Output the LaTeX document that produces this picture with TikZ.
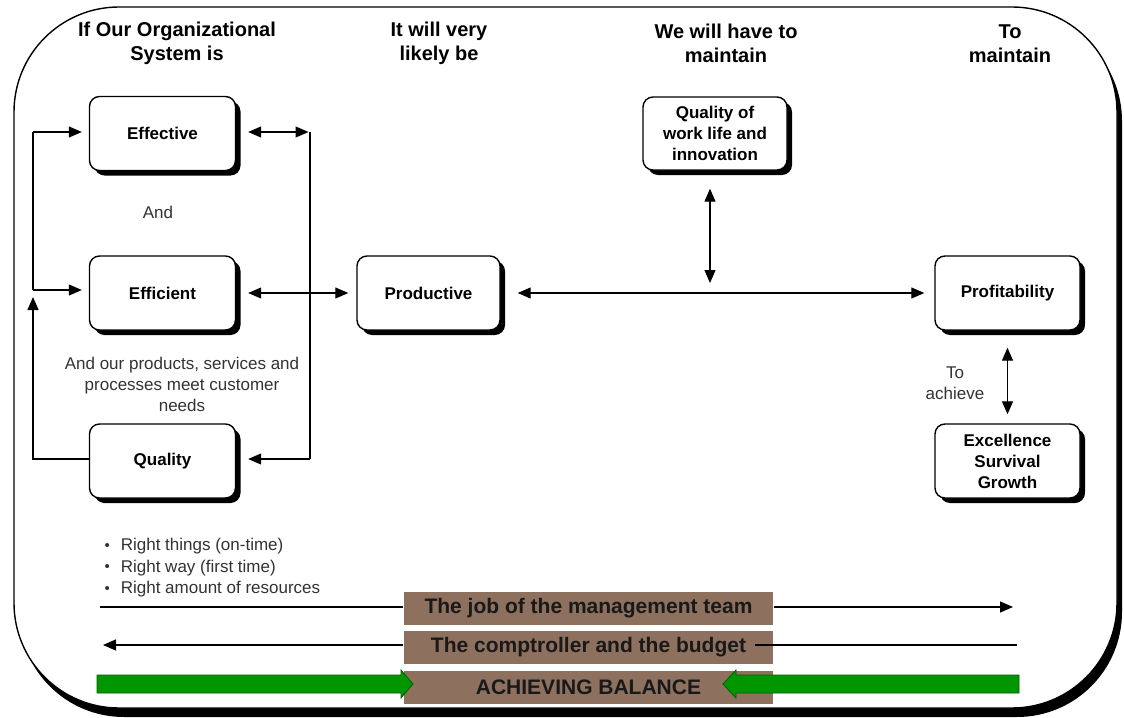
\documentclass[tikz,border=0pt]{standalone}
\usepackage{fontspec}
\setmainfont{Liberation Sans}
\usetikzlibrary{arrows.meta,shadows,calc}
\definecolor{bandbrown}{RGB}{141,112,94}
\definecolor{bargreen}{RGB}{0,150,0}
\definecolor{bargreendark}{RGB}{0,95,0}
\newcommand\dotmark{{\fontsize{15bp}{15bp}\selectfont\raisebox{0.5bp}{•}}}
\begin{document}
\begin{tikzpicture}[x=1bp,y=-1bp,
  line width=1.2bp,
  >={Triangle[length=13bp,width=11bp]},
  stage/.style={draw, line width=1.4bp, rounded corners=10bp, fill=white,
    align=center, inner sep=0pt, minimum width=146bp, minimum height=74bp,
    font=\fontsize{17bp}{21bp}\selectfont\bfseries,
    drop shadow={shadow xshift=5bp, shadow yshift=-5bp, fill=black, opacity=1}},
  header/.style={align=center, font=\fontsize{20bp}{24bp}\selectfont\bfseries},
  note/.style={align=center, text=black!80, font=\fontsize{17bp}{21bp}\selectfont},
  band/.style={fill=bandbrown, minimum width=369bp, minimum height=33bp,
    inner sep=0pt, text=black!90, font=\fontsize{21bp}{21bp}\selectfont\bfseries},
  greenbar/.style={fill=bargreen, draw=bargreendark, line width=0.8bp},
]
\useasboundingbox (0,0) rectangle (1124,718);

% outer frame with its shadow
\fill[black, rounded corners=105bp] (19,16) rectangle (1122,717);
\draw[line width=1.4bp, fill=white, rounded corners=105bp] (14,7) rectangle (1117,708);

% column headings
\node[header] (h1) at (177,43) {If Our Organizational\\System is};
\node[header] (h2) at (439,43) {It will very\\likely be};
\node[header] (h3) at (726,43) {We will have to\\maintain};
\node[header] (h4) at (1010,44) {To\\maintain};

% stage boxes
\node[stage] (eff)  at (162.5,133.5) {Effective};
\node[stage] (effi) at (162.5,293) {Efficient};
\node[stage] (qual) at (162.5,461) {Quality};
\node[stage, minimum width=143bp] (prod) at (428.5,293) {Productive};
\node[stage, minimum width=144bp, minimum height=73bp] (qwl) at (715,133.5) {Quality of\\work life and\\innovation};
\node[stage, minimum width=145bp] (prof) at (1007.5,293) {Profitability};
\node[stage, minimum width=145bp] (exc)  at (1007.5,461) {Excellence\\Survival\\Growth};

% free texts
\node[note] (andtxt) at (158,212) {And};
\node[note] (meet) at (182,384) {And our products, services and\\processes meet customer\\needs};
\node[note] (achieve) at (955,383) {To\\achieve};
\node[anchor=west, inner sep=0pt, text=black!80, font=\fontsize{17bp}{21.5bp}\selectfont] (bul) at (104,568)
  {\begin{tabular}{@{}l@{\hspace{11bp}}l@{}}
   \dotmark & Right things (on-time)\\
   \dotmark & Right way (first time)\\
   \dotmark & Right amount of resources
   \end{tabular}};

% left feedback bracket
\coordinate (lv1) at (33,132);
\coordinate (lv2) at (33,290);
\coordinate (lv3) at (33,297);
\coordinate (lv4) at (33,459);
\draw (lv1) -- (lv2);
\draw[->, shorten >=7bp] (lv1) -- (lv1 -| eff.west);
\draw[->, shorten >=7bp] (lv2) -- (lv2 -| effi.west);
\draw[->] (lv4 -| qual.west) -- (lv4) -- (lv3);

% right bracket
\coordinate (rv1) at (310,132);
\coordinate (rv2) at (310,459);
\draw[<->, shorten <=12bp, shorten >=1.5bp] (rv1 -| eff.east) -- (rv1);
\draw (rv1) -- (rv2);
\draw[->, shorten >=12bp] (rv2) -- (rv2 -| qual.east);

% main chain
\draw[<->, shorten <=12bp, shorten >=8bp] (effi.east) -- (prod.west);
\draw[<->, shorten <=17bp, shorten >=10bp] (prod.east) -- (prof.west);
\coordinate (mid) at (710,293);
\draw[<->, shorten <=18bp, shorten >=10bp] (mid |- qwl.south) -- (mid);
\draw[<->, shorten <=17bp, shorten >=9bp] (prof.south) -- (exc.north);

% bottom bands
\node[band] (job)    at (588.5,608.5) {The job of the management team};
\node[band] (budget) at (588.5,647) {The comptroller and the budget};
\node[band] (bal)    at (588.5,687) {ACHIEVING BALANCE};

\coordinate (j1) at (100,607);
\coordinate (j2) at (1013,607);
\draw (j1) -- (j1 -| job.west);
\draw[->] (j1 -| job.east) -- (j2);

\coordinate (b1) at (103,645);
\coordinate (b2) at (1017,645);
\coordinate (b3) at (755,645);
\draw[<-] (b1) -- (b1 -| budget.west);
\draw (b3) -- (b2);

% green balance arrows
\draw[greenbar] (97,675) -- (401,675) -- (401,670) -- (413,684) -- (401,698) -- (401,693) -- (97,693) -- cycle;
\draw[greenbar] (1019,675) -- (736,675) -- (736,670) -- (723,684) -- (736,698) -- (736,693) -- (1019,693) -- cycle;
\end{tikzpicture}
\end{document}
